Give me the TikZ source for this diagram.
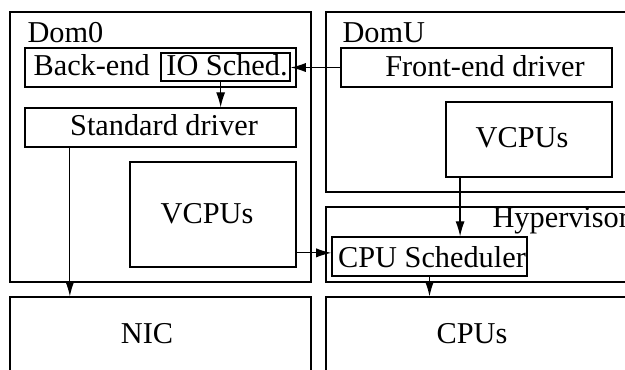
\documentclass[tikz,border=0pt]{standalone}
\usepackage{fontspec}
\setmainfont{Liberation Serif}
\usetikzlibrary{arrows.meta,fit}

\begin{document}
\begin{tikzpicture}[
  x=0.33pt, y=-0.33pt,
  box/.style={draw, inner sep=0pt, line width=0.4pt},
  txt/.style={inner sep=0pt, anchor=base west},
  mid/.style={inner sep=0pt, anchor=base},
  arr/.style={draw, -{Latex[length=5pt,width=3pt]}}
]
\useasboundingbox (0,0) rectangle (625,369);
\clip (0,0) rectangle (625,369);

% Dom0
\node[box, fit={(10,12) (311,282)}] (dom0) {};
\node[txt] (dom0lbl) at (27,42) {Dom0};
\node[box, fit={(25,48) (296,87)}] (backend) {};
\node[txt] (backlbl) at (33,75) {Back-end};
\node[box, fit={(161,53) (290,81)}] (iosched) {};
\node[mid] (iolbl) at (227,75) {IO Sched.};
\node[box, fit={(25,108) (296,147)}] (stddrv) {};
\node[mid] (stdlbl) at (164,135) {Standard driver};
\node[box, fit={(130,162) (296,267)}] (vcpu0) {};
\node[mid] (vcpu0lbl) at (207,223) {VCPUs};

% DomU
\node[box, fit={(326,12) (650,192)}] (domu) {};
\node[txt] (domulbl) at (342,42) {DomU};
\node[box, fit={(341,48) (612,87)}] (front) {};
\node[mid] (frontlbl) at (485,76) {Front-end driver};
\node[box, fit={(446,102) (612,177)}] (vcpuU) {};
\node[mid] (vcpuUlbl) at (522,147) {VCPUs};

% Hypervisor
\node[box, fit={(326,207) (650,282)}] (hyp) {};
\node[txt] (hyplbl) at (492,227) {Hypervisor};
\node[box, fit={(332,237) (527,276)}] (cpusched) {};
\node[mid] (schedlbl) at (432,267) {CPU Scheduler};

% hardware
\node[box, fit={(10,297) (311,400)}] (nic) {};
\node[mid] (niclbl) at (147,343) {NIC};
\node[box, fit={(326,297) (650,400)}] (cpus) {};
\node[mid] (cpuslbl) at (472,343) {CPUs};

% connectors
\draw[arr] (front.west) -- (front.west -| iosched.east);
\draw[arr] ([xshift=-1.6pt]iosched.south) -- ([xshift=-1.6pt]iosched.south |- stddrv.north);
\draw[arr] ([xshift=15pt]stddrv.south west) -- ([xshift=15pt]stddrv.south west |- nic.north);
\draw[arr] ([yshift=1.2pt]cpusched.west -| vcpu0.east) -- ([yshift=1.2pt]cpusched.west);
\draw[arr] ([xshift=4.85pt]vcpuU.south west) -- ([xshift=4.85pt]vcpuU.south west |- cpusched.north);
\draw[arr] (cpusched.south) -- (cpusched.south |- cpus.north);

\end{tikzpicture}
\end{document}
